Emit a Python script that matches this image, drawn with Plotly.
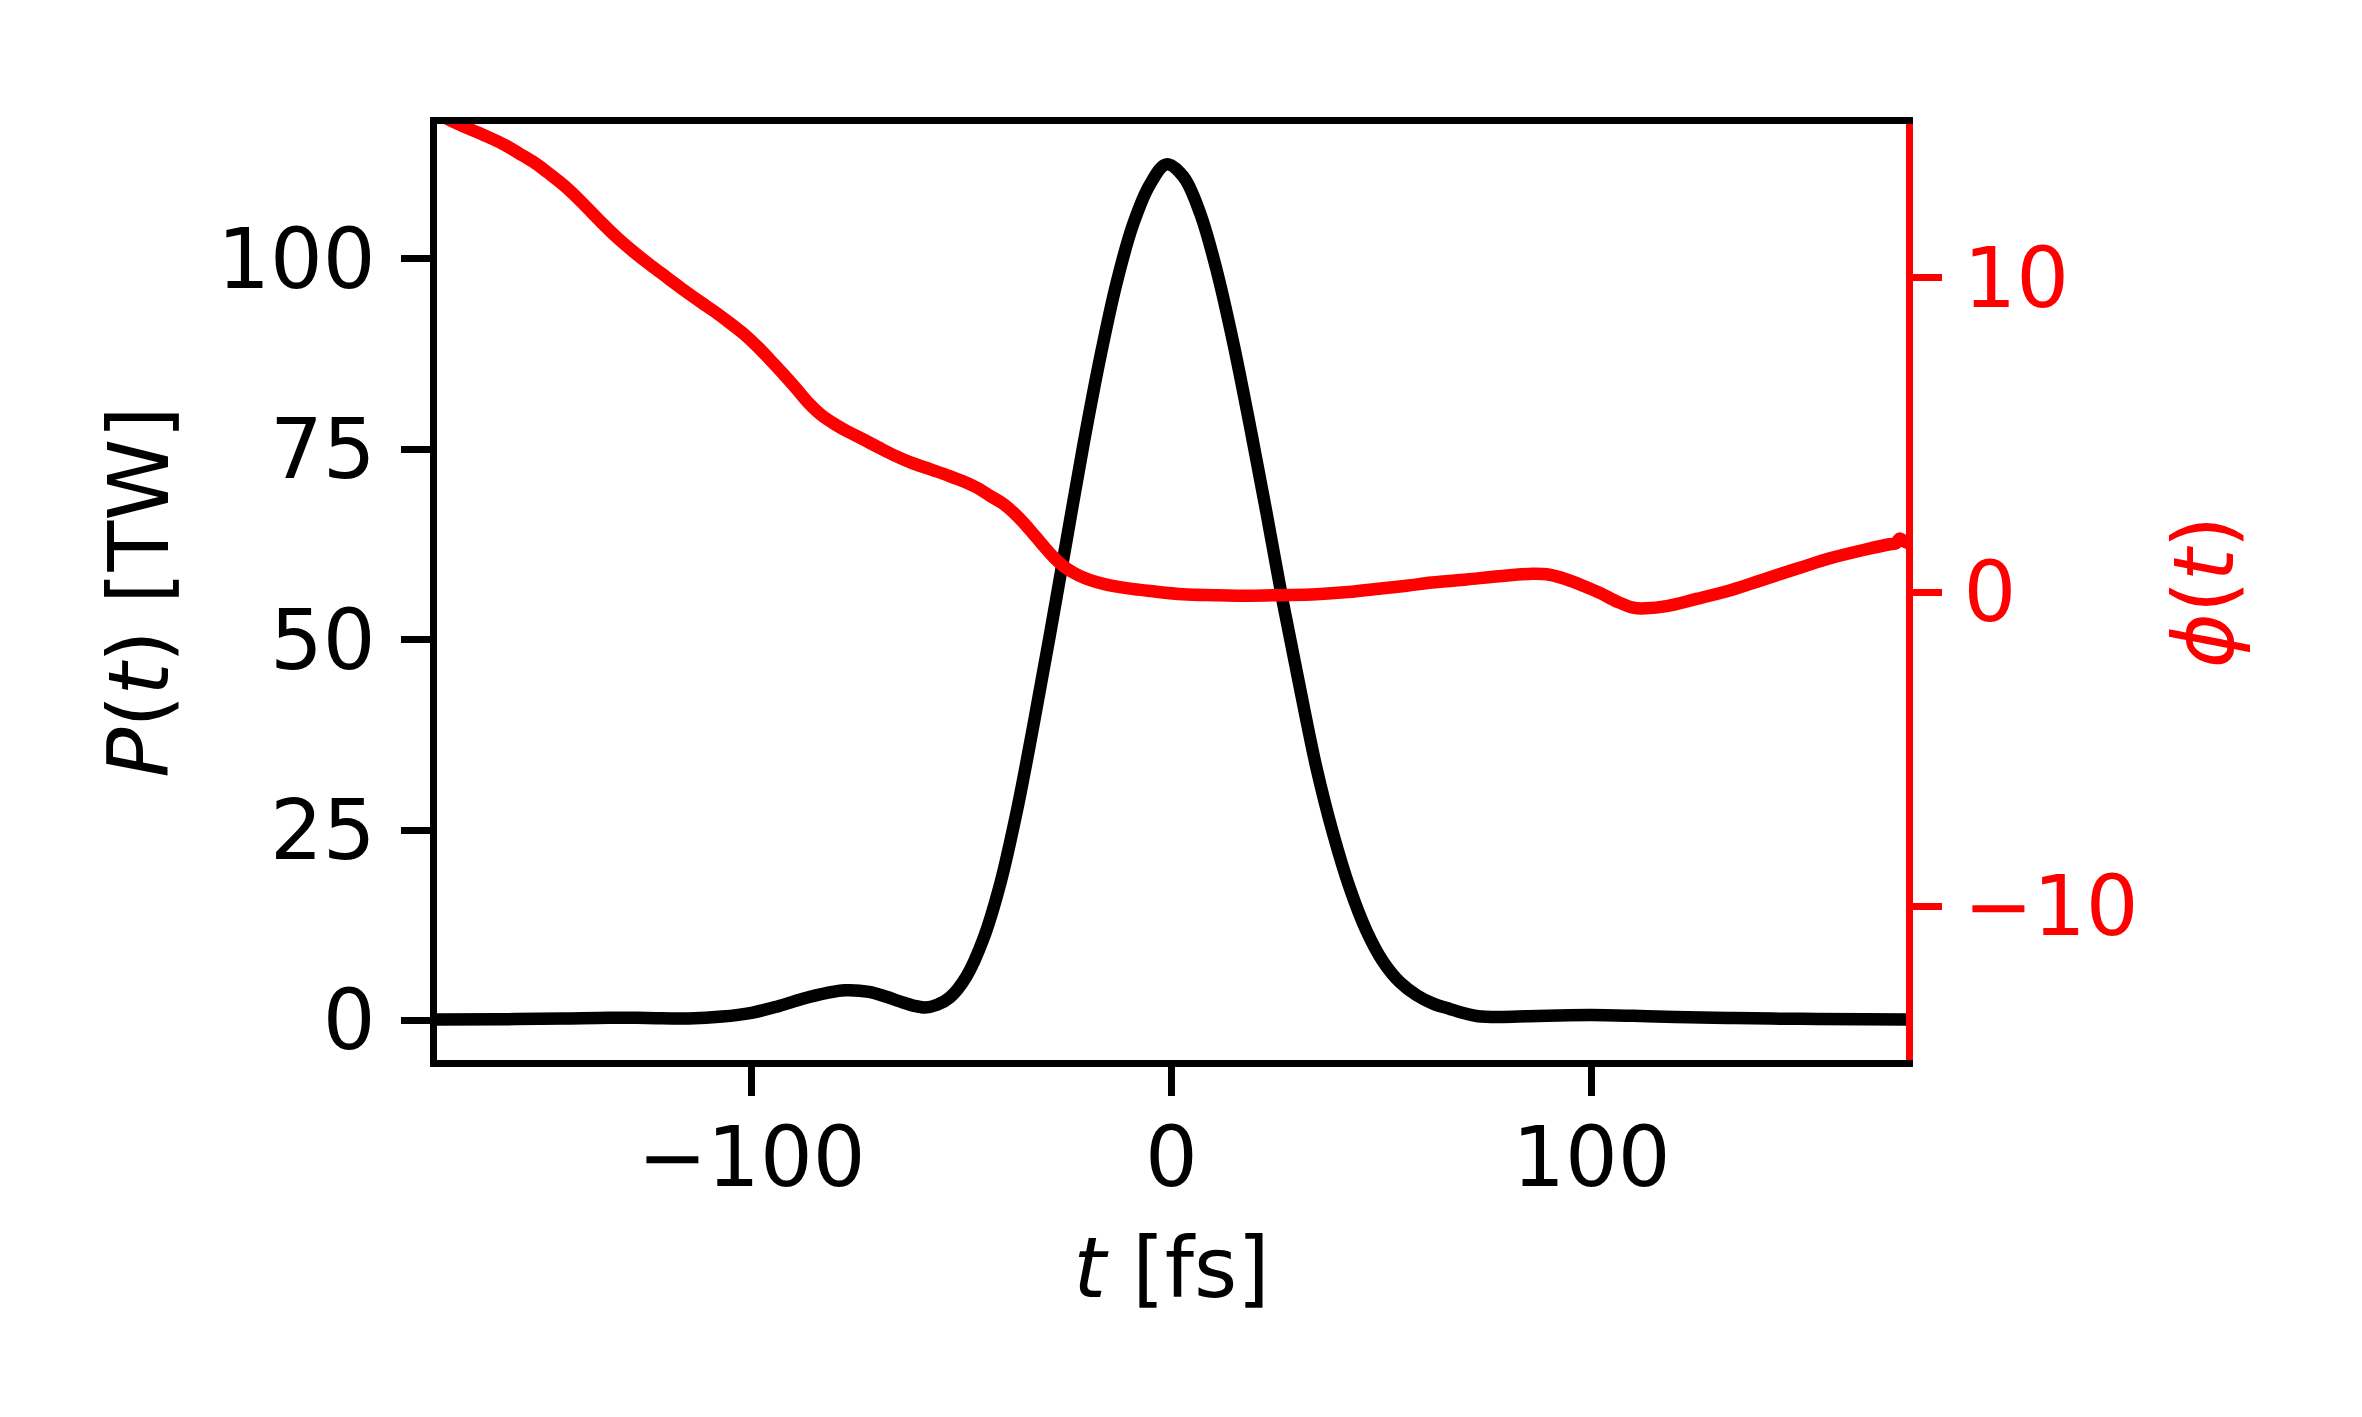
import plotly.graph_objects as go

# peak power P(t) [TW]
t_power = [-176, -160, -145, -134, -125, -115, -107, -100, -94, -88, -82, -77.8, -72,
           -67.9, -64.7, -61.5, -58.7, -55.8, -52.8, -48.8, -44.8, -40.9, -36.9,
           -32.9, -29, -25, -21, -17, -13.1, -9.1, -5.1, -1.2, 2.8, 6.8, 10.7, 14.7,
           18.7, 22.6, 26.6, 30.6, 34.5, 38.5, 42.5, 46.4, 50.4, 54.4, 58.4, 62.3, 66.3,
           70, 73, 78, 85, 92, 100, 110, 120, 134, 150, 165, 176]
power = [0.1, 0.15, 0.25, 0.35, 0.32, 0.26, 0.5, 1.0, 1.8, 2.8, 3.6, 3.95, 3.75,
         3.1, 2.5, 1.95, 1.7, 2.05, 3.0, 5.8, 10.7, 17.7, 27.3,
         38.7, 50.5, 63.0, 75.5, 87.0, 96.8, 104.6, 109.8, 112.4, 110.8, 106.0, 98.6, 89.0,
         78.0, 66.7, 54.7, 43.6, 33.2, 24.5, 17.3, 11.8, 7.7, 5.0, 3.3, 2.2, 1.5,
         0.9, 0.55, 0.45, 0.55, 0.65, 0.7, 0.6, 0.45, 0.3, 0.2, 0.15, 0.13]

# phase phi(t)
t_phase = [-176, -169.4, -163.8, -159, -155.3, -151.5, -148.5, -144.3, -140, -136,
           -132, -128, -124, -120, -116, -112, -108.5, -105, -101.7, -98.5, -95.5,
           -92.5, -89.5, -86.5, -83.5, -80, -77, -74, -70, -66, -62, -57.5, -53, -49,
           -46, -43.2, -40, -37, -34, -31, -28, -25, -22, -19, -16, -13, -9, -5,
           2.8, 10, 18.7, 26, 34.5, 42, 50.4, 56, 62, 70.3, 78, 86.1, 90, 94.1, 98,
           102, 106, 109.9, 113, 117.9, 125, 133.7, 141, 149.6, 157, 165.5, 171,
           172.5, 173.4, 174.6, 175.5]
phase = [15.3, 14.87, 14.55, 14.25, 13.96, 13.65, 13.35, 12.9, 12.35, 11.8,
         11.28, 10.82, 10.4, 10.0, 9.6, 9.22, 8.9, 8.55, 8.2, 7.8, 7.38,
         6.95, 6.5, 6.03, 5.65, 5.33, 5.1, 4.9, 4.62, 4.35, 4.12, 3.91, 3.7, 3.49,
         3.3, 3.06, 2.8, 2.45, 2.02, 1.55, 1.1, 0.75, 0.52, 0.36, 0.25, 0.17, 0.09, 0.03,
         -0.07, -0.1, -0.12, -0.1, -0.07, 0.0, 0.12, 0.2, 0.3, 0.4, 0.5, 0.58, 0.55, 0.4, 0.2,
         -0.03, -0.3, -0.5, -0.52, -0.45, -0.22, 0.08, 0.4, 0.77, 1.08, 1.36, 1.52,
         1.55, 1.7, 1.6, 1.55]

x_tickvals = [-100, 0, 100]
x_ticktext = ['\u2212100', '0', '100']
y_tickvals = [0, 25, 50, 75, 100]
y2_tickvals = [-10, 0, 10]
y2_ticktext = ['\u221210', '0', '10']

font_family = 'DejaVu Sans'
fs = 83
lw = 12.5
spine = 6.7

fig = go.Figure()
fig.add_trace(go.Scatter(x=t_power, y=power, mode='lines', yaxis='y',
                         line=dict(color='black', width=lw, shape='spline', smoothing=1.0)))
fig.add_trace(go.Scatter(x=t_phase, y=phase, mode='lines', yaxis='y2',
                         line=dict(color='red', width=lw, shape='spline', smoothing=1.0)))

# the page body adds an 8px offset, margins are shifted to compensate
fig.update_layout(
    width=2362, height=1417,
    margin=dict(l=429, r=464, t=116, b=365),
    paper_bgcolor='white', plot_bgcolor='white',
    showlegend=False,
    font=dict(family=font_family, size=fs, color='black'),
    xaxis=dict(range=[-174.9, 174.9], tickvals=x_tickvals, ticktext=x_ticktext,
               ticks='outside', ticklen=29, tickwidth=spine, tickcolor='black',
               showline=True, linewidth=spine, linecolor='black', mirror=True,
               showgrid=False, zeroline=False, ticklabelstandoff=-9,
               title=dict(text='<i>t</i> [fs]', standoff=36, font=dict(size=fs))),
    yaxis=dict(range=[-5.2, 117.7], tickvals=y_tickvals,
               ticks='outside', ticklen=29, tickwidth=spine, tickcolor='black',
               showline=True, linewidth=spine, linecolor='black',
               showgrid=False, zeroline=False, ticklabelstandoff=9,
               title=dict(text='<i>P</i>(<i>t</i>) [TW]', standoff=24, font=dict(size=fs))),
    yaxis2=dict(range=[-14.9, 14.9], tickvals=y2_tickvals, ticktext=y2_ticktext,
                overlaying='y', side='right', anchor='x',
                ticks='outside', ticklen=29, tickwidth=spine, tickcolor='red',
                showline=True, linewidth=spine, linecolor='red',
                showgrid=False, zeroline=False, ticklabelstandoff=5,
                tickfont=dict(color='red'),
                title=dict(text='<i>\u03d5</i>(<i>t</i>)', standoff=40,
                           font=dict(size=fs, color='red'))),
)

fig.write_html("out.html")
